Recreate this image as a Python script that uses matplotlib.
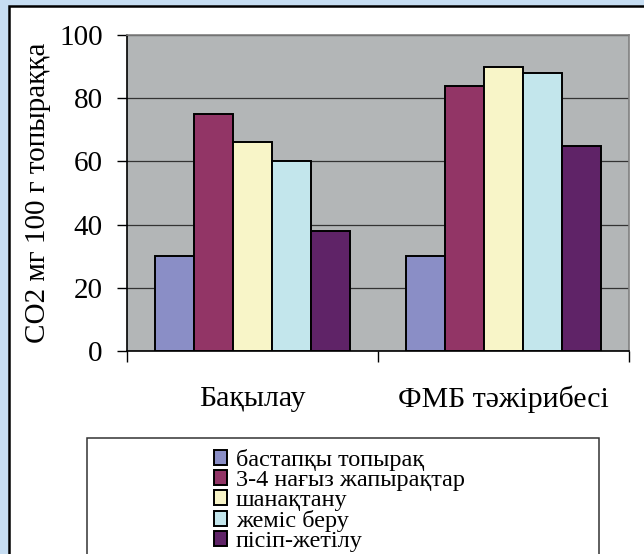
import numpy as np
import matplotlib
matplotlib.use('Agg')
import matplotlib.pyplot as plt
from matplotlib.patches import Rectangle

plt.rcParams['font.family'] = ['Liberation Serif', 'DejaVu Serif']

# CO2 released, mg per 100 g soil
groups = ['Бақылау', 'ФМБ тәжірибесі']
stages = ['бастапқы топырақ', '3-4 нағыз жапырақтар', 'шанақтану',
          'жеміс беру', 'пісіп-жетілу']
control = [30, 75, 66, 60, 38]
fmb = [30, 84, 90, 88, 65]
stage_colors = ['#8A8EC6', '#923566', '#F8F5C8', '#C3E6EC', '#5F2367']

fig = plt.figure(figsize=(6.44, 5.54), dpi=100, facecolor='#C6DDF2')

# white panel with a black frame (runs off the right and bottom edges)
W, H = 644, 554
fig.patches.append(Rectangle((9 / W, -0.1), 1.2, 1 - 6 / H + 0.1,
                             transform=fig.transFigure, facecolor='white',
                             edgecolor='black', linewidth=1.8, zorder=0))
# legend box
fig.patches.append(Rectangle((87 / W, -0.1), (599 - 87) / W, 1 - 438 / H + 0.1,
                             transform=fig.transFigure, facecolor='white',
                             edgecolor='#333333', linewidth=1.1, zorder=1))

ax = fig.add_axes([127 / W, 1 - 351 / H, 502 / W, 316 / H])
ax.set_facecolor('#B3B6B7')
ax.set_zorder(2)

x = np.arange(len(groups))
w = 0.1546
series = np.array([control, fmb]).T
for i, (name, vals) in enumerate(zip(stages, series)):
    ax.bar(x + (i - 2) * w, vals, w, color=stage_colors[i], edgecolor='black',
           linewidth=1.4, label=name, zorder=3)

ax.set_xlim(-0.5, 1.5)
ax.set_ylim(0, 100)
ax.set_yticks(np.arange(0, 101, 20))
ax.yaxis.grid(True, color='#333333', linewidth=0.9, zorder=1)
ax.set_axisbelow(True)

ax.set_xticks([-0.5, 0.5, 1.5])
ax.set_xticklabels([])
ax.set_xticks(x, minor=True)
ax.set_xticklabels(groups, minor=True)
ax.tick_params(axis='x', which='major', direction='out', length=8,
               width=1, color='black')
ax.tick_params(axis='x', which='minor', length=0, pad=25, labelsize=21.5)
ax.tick_params(axis='y', direction='out', length=7, width=1,
               pad=10.5, labelsize=21)

for s in ['left', 'bottom']:
    ax.spines[s].set_color('black')
    ax.spines[s].set_linewidth(1.2)
for s in ['top', 'right']:
    ax.spines[s].set_color('#808080')
    ax.spines[s].set_linewidth(1.2)

ax.set_ylabel('CO2 мг 100 г топыраққа', fontsize=21)
ax.yaxis.set_label_coords(-0.152, 0.5)

fig.legend(loc='upper left', bbox_to_anchor=(214 / W, 1 - 449 / H),
           frameon=False, fontsize=17.5, handlelength=0.55, handleheight=0.55,
           handletextpad=0.35, labelspacing=-0.04, borderpad=0,
           borderaxespad=0)

fig.savefig('out.png', dpi=100, facecolor=fig.get_facecolor())
